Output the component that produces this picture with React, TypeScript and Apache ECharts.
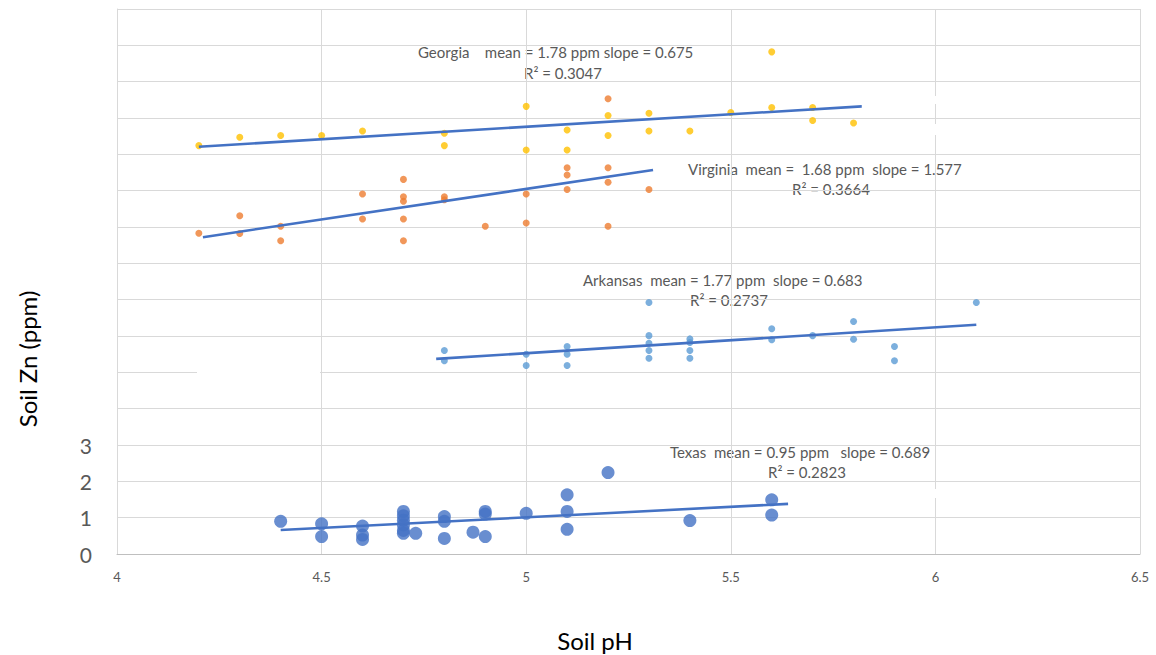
import React, { useEffect, useRef } from 'react';
import * as echarts from 'echarts';

// Soil pH (x) and Soil Zn (y, offset per state as in the original chart)
const georgiaPH = [4.2, 4.3, 4.4, 4.5, 4.6, 4.8, 4.8, 5.0, 5.0, 5.1, 5.1, 5.2, 5.2, 5.3, 5.3, 5.4, 5.5, 5.6, 5.6, 5.7, 5.7, 5.8];
const georgiaZn = [11.24, 11.47, 11.52, 11.52, 11.64, 11.58, 11.24, 12.32, 11.12, 11.67, 11.12, 12.07, 11.52, 12.13, 11.64, 11.64, 12.15, 13.82, 12.29, 12.29, 11.93, 11.86];

const virginiaPH = [4.2, 4.3, 4.3, 4.4, 4.4, 4.6, 4.6, 4.7, 4.7, 4.7, 4.7, 4.7, 4.8, 4.8, 4.9, 5.0, 5.0, 5.1, 5.1, 5.1, 5.2, 5.2, 5.2, 5.2, 5.3];
const virginiaZn = [8.83, 9.31, 8.82, 9.02, 8.62, 9.91, 9.22, 10.31, 9.83, 9.71, 9.22, 8.62, 9.83, 9.75, 9.02, 9.91, 9.11, 10.63, 10.43, 10.03, 12.53, 10.63, 10.23, 9.02, 10.03];

const arkansasPH = [4.8, 4.8, 5.0, 5.0, 5.1, 5.1, 5.1, 5.3, 5.3, 5.3, 5.3, 5.3, 5.4, 5.4, 5.4, 5.4, 5.6, 5.6, 5.7, 5.8, 5.8, 5.9, 5.9, 6.1];
const arkansasZn = [5.6, 5.32, 5.5, 5.19, 5.71, 5.5, 5.19, 6.92, 6.01, 5.8, 5.6, 5.39, 5.92, 5.82, 5.6, 5.39, 6.2, 5.9, 6.01, 6.4, 5.91, 5.71, 5.32, 6.92];

const texasPH = [4.4, 4.5, 4.5, 4.6, 4.6, 4.6, 4.7, 4.7, 4.7, 4.7, 4.7, 4.7, 4.73, 4.8, 4.8, 4.8, 4.87, 4.9, 4.9, 4.9, 5.0, 5.1, 5.1, 5.1, 5.2, 5.4, 5.6, 5.6];
const texasZn = [0.9, 0.83, 0.48, 0.77, 0.52, 0.4, 1.17, 1.05, 0.93, 0.8, 0.65, 0.57, 0.57, 1.03, 0.9, 0.43, 0.6, 1.17, 1.1, 0.48, 1.12, 1.63, 1.17, 0.68, 2.24, 0.92, 1.49, 1.07];

// Trendline endpoints [pH, Zn]
const georgiaTrend = [[4.2, 11.21], [5.82, 12.32]];
const virginiaTrend = [[4.21, 8.72], [5.31, 10.57]];
const arkansasTrend = [[4.78, 5.37], [6.1, 6.31]];
const texasTrend = [[4.4, 0.66], [5.64, 1.38]];

const yTickLabels = ['0', '1', '2', '3'];

const zip = (xs: number[], ys: number[]) => xs.map((x, i) => [x, ys[i]]);

const FONT = 'Lato, "Open Sans", sans-serif';
const ANN = '#595959';

export default function App() {
  const ref = useRef<HTMLDivElement>(null);
  useEffect(() => {
    if (!ref.current) return;
    const chart = echarts.init(ref.current, undefined, { renderer: 'svg' });
    const trendStyle = { color: '#4472C4', width: 2.6 };
    const annText = (x: number, y: number, text: string) => ({
      type: 'text',
      x,
      y,
      silent: true,
      style: { text, fill: ANN, fontSize: 15, fontFamily: FONT, textVerticalAlign: 'middle', textAlign: 'left' },
    });
    const whiteBox = (x: number, y: number, w: number, h: number) => ({
      type: 'rect',
      shape: { x, y, width: w, height: h },
      style: { fill: '#ffffff' },
      silent: true,
      z: 1,
    });
    chart.setOption({
      animation: false,
      backgroundColor: '#ffffff',
      grid: { left: 117, top: 9, width: 1023, height: 545, containLabel: false },
      xAxis: {
        type: 'value',
        min: 4,
        max: 6.5,
        interval: 0.5,
        axisLine: { show: true, lineStyle: { color: '#bfbfbf', width: 1 } },
        axisTick: { show: false },
        splitLine: { show: true, lineStyle: { color: '#d9d9d9', width: 1 } },
        axisLabel: { color: ANN, fontSize: 13, fontFamily: FONT, margin: 16 },
      },
      yAxis: {
        type: 'value',
        min: 0,
        max: 15,
        interval: 1,
        axisLine: { show: true, lineStyle: { color: '#d9d9d9', width: 1 } },
        axisTick: { show: false },
        splitLine: { show: true, lineStyle: { color: '#d9d9d9', width: 1.2 } },
        axisLabel: {
          color: ANN,
          fontSize: 21,
          fontFamily: FONT,
          margin: 25,
          formatter: (v: number) => (yTickLabels.includes(String(v)) ? String(v) : ''),
        },
      },
      series: [
        { type: 'scatter', name: 'Georgia', data: zip(georgiaPH, georgiaZn), symbolSize: 7, itemStyle: { color: '#FFC000' } },
        { type: 'scatter', name: 'Virginia', data: zip(virginiaPH, virginiaZn), symbolSize: 7, itemStyle: { color: '#ED7D31' } },
        { type: 'scatter', name: 'Arkansas', data: zip(arkansasPH, arkansasZn), symbolSize: 7, itemStyle: { color: '#5B9BD5' } },
        { type: 'scatter', name: 'Texas', data: zip(texasPH, texasZn), symbolSize: 13, itemStyle: { color: '#4472C4' } },
        { type: 'line', data: georgiaTrend, symbol: 'none', lineStyle: trendStyle, z: 3 },
        { type: 'line', data: virginiaTrend, symbol: 'none', lineStyle: trendStyle, z: 3 },
        { type: 'line', data: arkansasTrend, symbol: 'none', lineStyle: trendStyle, z: 3 },
        { type: 'line', data: texasTrend, symbol: 'none', lineStyle: trendStyle, z: 3 },
      ],
      graphic: [
        whiteBox(197, 371, 123, 4),
        whiteBox(934, 96, 5, 8),
        whiteBox(934, 124, 5, 11),
        whiteBox(934, 489, 5, 9),
        annText(418, 52, 'Georgia    mean = 1.78 ppm slope = 0.675'),
        annText(524, 73, 'R² = 0.3047'),
        annText(688, 169, 'Virginia  mean =  1.68 ppm  slope = 1.577'),
        annText(792, 189, 'R² = 0.3664'),
        annText(583, 280, 'Arkansas  mean = 1.77 ppm  slope = 0.683'),
        annText(690, 300, 'R² = 0.2737'),
        annText(670, 452, 'Texas  mean = 0.95 ppm   slope = 0.689'),
        annText(768, 472, 'R² = 0.2823'),
        {
          type: 'text',
          x: 27,
          y: 359,
          rotation: Math.PI / 2,
          silent: true,
          style: { text: 'Soil Zn (ppm)', fill: '#000000', fontSize: 24, fontFamily: FONT, textAlign: 'center', textVerticalAlign: 'middle' },
        },
        {
          type: 'text',
          x: 595,
          y: 640,
          silent: true,
          style: { text: 'Soil pH', fill: '#000000', fontSize: 24, fontFamily: FONT, textAlign: 'center', textVerticalAlign: 'middle' },
        },
      ],
    });
    return () => chart.dispose();
  }, []);
  return (
    <div
      ref={ref}
      style={{ position: 'fixed', left: 0, top: 0, width: 1156, height: 655, background: '#ffffff' }}
    />
  );
}
